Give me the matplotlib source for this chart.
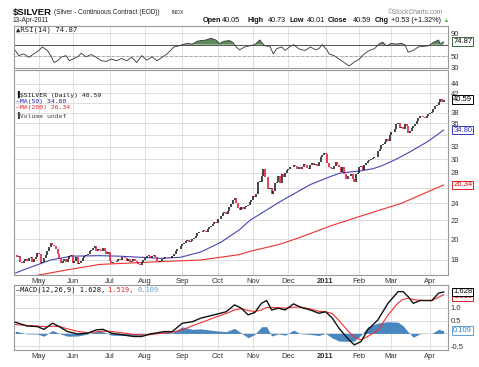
import numpy as np
import pandas as pd
import matplotlib
matplotlib.use('Agg')
import matplotlib.pyplot as plt
import matplotlib.transforms as mtrans
from matplotlib.ticker import FixedLocator, NullFormatter, NullLocator, FuncFormatter

# ---- data ----
holidays = ['2010-05-31', '2010-07-05', '2010-09-06', '2010-11-25',
            '2010-12-24', '2011-01-17', '2011-02-21']

closes = [
    # Apr 2010
    18.45, 18.30, 18.40, 17.85, 17.75, 17.95, 18.05, 17.90, 18.15, 18.25, 17.85, 18.05, 18.30, 18.65,
    # May
    18.55, 17.70, 17.80, 18.15, 18.50, 18.80, 19.20, 19.65, 19.45, 19.30,
    19.05, 18.60, 18.20, 17.75, 17.90, 18.05, 17.80, 18.10, 18.35, 18.45,
    # Jun
    17.75, 17.95, 18.25, 17.60, 17.70, 17.95, 18.20, 18.40, 18.45, 18.60, 18.80,
    18.95, 19.10, 19.30, 18.85, 19.05, 18.90, 18.80, 19.15, 18.85, 18.60, 18.70,
    # Jul
    17.95, 17.70, 17.85, 17.80, 17.95, 18.05, 18.00, 18.30, 18.25, 18.20, 17.95,
    18.10, 17.80, 17.95, 18.05, 17.95, 17.85, 17.60, 17.55, 17.85, 18.00,
    # Aug
    18.15, 18.35, 18.40, 18.20, 18.40, 18.45, 18.25, 17.90, 17.85, 17.95, 18.05,
    18.20, 18.30, 18.25, 18.15, 18.20, 18.35, 18.55, 18.80, 19.05, 19.00, 19.35,
    # Sep
    19.50, 19.65, 19.85, 19.90, 19.75, 19.85, 20.00, 20.10, 20.35, 20.60, 20.75,
    20.70, 20.85, 20.90, 20.75, 21.10, 21.30, 21.40, 21.65, 21.80, 21.70,
    # Oct
    22.15, 22.20, 22.45, 22.80, 23.00, 22.70, 23.10, 23.50, 23.90, 24.40, 24.65,
    24.05, 23.40, 23.20, 23.60, 23.35, 23.60, 23.70, 23.85, 24.20, 24.45,
    # Nov
    24.85, 24.75, 25.20, 26.80, 26.80, 27.50, 28.60, 27.40, 27.40, 25.80, 26.00,
    25.10, 25.60, 26.60, 26.80, 27.60, 26.60, 27.90, 27.40, 27.95, 28.35,
    # Dec
    28.60, 28.90, 28.80, 29.20, 28.95, 28.60, 28.80, 28.60, 28.90, 29.30, 29.10,
    28.70, 28.50, 29.20, 29.50, 29.20, 29.30, 29.00, 29.60, 30.30, 30.70, 30.90,
    # Jan 2011
    30.80, 29.40, 28.80, 28.70, 28.55, 29.00, 29.60, 29.20, 28.90, 28.20,
    28.90, 27.80, 27.10, 27.50, 27.60, 27.80, 27.20, 26.70, 27.90, 27.95,
    # Feb
    28.80, 29.00, 28.40, 29.10, 29.40, 29.70, 29.90, 30.10, 30.20, 30.30,
    30.40, 31.30, 31.60, 32.30, 32.40, 32.70, 33.20, 32.90, 33.90,
    # Mar
    34.50, 34.40, 35.00, 35.90, 36.10, 35.20, 35.40, 35.00, 35.80, 35.60, 34.30, 34.60,
    35.10, 35.50, 35.90, 36.40, 37.00, 37.40, 37.30, 37.10, 37.00, 37.40, 37.80,
    # Apr
    37.90, 38.20, 38.70, 39.30, 39.60, 40.10, 40.70, 40.05, 40.59,
]

ma50_day = [0, 9, 21, 33, 50, 62, 74, 86, 98, 110, 122, 133, 139, 157, 175, 187, 193,
            205, 212, 217, 225, 233, 245, 254]
ma50_val = [16.85, 17.35, 18.0, 18.35, 18.4, 18.35, 18.25, 18.15, 18.25, 18.75, 19.7,
            21.0, 22.0, 24.2, 26.4, 27.5, 28.0, 28.3, 28.6, 29.0, 29.9, 31.0, 32.9, 34.80]

ma200_day = [0, 9, 30, 50, 86, 110, 133, 139, 157, 169, 187, 205, 229, 254]
ma200_val = [16.3, 16.55, 17.1, 17.6, 17.85, 18.0, 18.5, 18.8, 19.5, 20.2, 21.4, 22.5,
             24.0, 26.34]

rsi_day = [0, 2, 5, 8, 11, 14, 16, 19, 21, 23, 25, 27, 30, 32, 34, 37, 39, 42, 45, 48,
           51, 54, 57, 60, 63, 66, 69, 72, 75, 78, 81, 84, 87, 90, 92, 94, 96, 99, 102,
           105, 108, 110, 113, 116, 119, 121, 124, 127, 129, 131, 133, 136, 139, 142,
           145, 146, 148, 151, 153, 155, 158, 160, 163, 165, 168, 170, 172, 175, 178,
           180, 182, 185, 186, 189, 192, 195, 198, 201, 204, 207, 210, 213, 216, 218,
           220, 223, 226, 229, 231, 233, 236, 239, 242, 245, 248, 251, 252, 254]
rsi_val = [60, 51, 54, 48, 54, 60, 66, 60, 51, 39, 42, 48, 51, 42, 45, 49, 55, 49, 53,
           48, 42, 41, 45, 42, 46, 42, 48, 39, 51, 43, 49, 42, 48, 54, 60, 66, 67, 70,
           72, 71, 76, 77, 78, 81, 78, 72, 76, 77, 74, 66, 61, 66, 68, 70, 78, 74, 68,
           67, 54, 63, 66, 60, 67, 70, 63, 61, 60, 66, 61, 63, 70, 60, 54, 51, 45, 39,
           33, 40, 45, 54, 60, 63, 72, 74, 68, 72, 71, 72, 70, 57, 60, 66, 67, 68, 74,
           78, 71, 74.87]

macd_day = [0, 7, 13, 17, 22, 26, 31, 37, 43, 48, 52, 57, 64, 70, 75, 80, 88, 93, 99,
            105, 110, 118, 125, 130, 134, 138, 142, 146, 149, 152, 156, 160, 165, 169,
            175, 180, 184, 188, 192, 197, 201, 205, 209, 215, 221, 227, 230, 233, 236,
            240, 247, 251, 254]
macd_val = [0.44, 0.29, 0.27, 0.16, 0.40, 0.27, 0.07, -0.02, 0.01, 0.14, 0.16, 0.01,
            -0.06, -0.12, -0.12, -0.02, 0.07, 0.07, 0.40, 0.46, 0.60, 0.73, 0.85, 1.12,
            0.99, 0.73, 0.82, 1.18, 1.29, 0.92, 0.99, 0.92, 1.16, 1.03, 0.92, 0.79, 0.85,
            0.60, 0.20, -0.19, -0.45, -0.32, 0.14, 0.53, 1.18, 1.64, 1.64, 1.44, 1.18,
            1.29, 1.29, 1.58, 1.628]
signal_val = [0.35, 0.31, 0.29, 0.27, 0.28, 0.27, 0.18, 0.08, 0.03, 0.06, 0.09, 0.08,
              0.02, -0.04, -0.07, -0.05, 0.02, 0.05, 0.14, 0.30, 0.42, 0.62, 0.78, 0.92,
              0.97, 0.90, 0.86, 0.92, 1.02, 1.02, 1.01, 0.99, 1.03, 1.04, 0.96, 0.87,
              0.85, 0.78, 0.50, 0.12, -0.15, -0.25, -0.12, 0.12, 0.72, 1.20, 1.34, 1.38,
              1.33, 1.30, 1.29, 1.42, 1.519]

# ---- setup ----
plt.rcParams['font.family'] = ['Liberation Sans', 'DejaVu Sans']
W, H = 479, 367
fig = plt.figure(figsize=(W / 100, H / 100), dpi=100)
fig.patch.set_facecolor('white')

dates = pd.bdate_range(end='2011-04-13', periods=len(closes), freq='C', holidays=holidays)
x = np.arange(len(closes))
months = dates.to_period('M')
mstart = [i for i in range(1, len(dates)) if months[i] != months[i - 1]]
mlabels = ['2011' if dates[i].month == 1 else dates[i].strftime('%b') for i in mstart]

grid_c = '#d9d9d9'
spine_c = '#9a9a9a'
tick_c = '#333333'
xlim = (-0.8, len(closes) + 1.6)
MONO = ['DejaVu Sans Mono']


def box(px_top, px_bot):
    return [14 / W, 1 - px_bot / H, 434 / W, (px_bot - px_top) / H]


def style(ax):
    ax.set_facecolor('white')
    for s in ax.spines.values():
        s.set_color(spine_c)
        s.set_linewidth(0.8)
    ax.yaxis.tick_right()
    ax.tick_params(axis='both', length=0, labelsize=5.5, colors=tick_c, pad=2)
    ax.set_xlim(*xlim)
    ax.xaxis.set_major_locator(FixedLocator(mstart))
    ax.grid(True, color=grid_c, lw=0.6)
    ax.set_axisbelow(True)


def labeler(fmt, hidden):
    # tick labels that sit under a value tag are not shown (they are covered there)
    return FuncFormatter(lambda v, p: '' if any(abs(v - h) < 1e-9 for h in hidden) else fmt % v)


def tag(ax, y, s, ec, tc='black'):
    tr = mtrans.blended_transform_factory(ax.transAxes, ax.transData)
    ax.text(1.012, y, s, transform=tr, fontsize=5.5, color=tc, va='center', ha='left',
            clip_on=False, zorder=10,
            bbox=dict(boxstyle='square,pad=0.12', fc='white', ec=ec, lw=0.7))


def T(px, py, s, **kw):
    fig.text(px / W, 1 - py / H, s, va='center', **kw)


# ---- RSI panel ----
ax1 = fig.add_axes(box(26, 68))
style(ax1)
ax1.set_ylim(29.5, 102.3)
ax1.yaxis.set_major_locator(FixedLocator([30, 50, 70, 90]))
ax1.yaxis.set_major_formatter(labeler('%d', [70]))
ax1.xaxis.set_major_formatter(NullFormatter())
rd = np.array(rsi_day)
rv = np.array(rsi_val, dtype=float)
ax1.fill_between(rd, 70, rv, where=rv > 70, interpolate=True, color='#5b8c5a', lw=0)
ax1.axhline(70, color='#555555', lw=0.7)
ax1.axhline(50, color='#aaaaaa', lw=0.7, ls=(0, (3, 2)))
ax1.plot(rd, rv, color='#333333', lw=0.6)
tag(ax1, 74.87, '74.87', '#3a6b3a')
T(16, 29.5, '\u25B2RSI(14) 74.87', fontsize=5.2, family=MONO, color='#222222')

# ---- price panel ----
ax2 = fig.add_axes(box(70, 275))
style(ax2)
ax2.set_yscale('log')
ax2.set_ylim(16.68, 47.2)
ax2.yaxis.set_major_locator(FixedLocator(list(range(18, 46, 2))))
ax2.yaxis.set_minor_locator(NullLocator())
ax2.yaxis.set_major_formatter(labeler('%d', [40, 34, 26]))
ax2.set_xticklabels(mlabels)

c = np.array(closes)
o = np.r_[c[0], c[:-1]]
cols = np.where(c >= o, '#111111', '#e0102e')
lo = np.minimum(o, c)
hi = np.maximum(o, c)
hi = np.where(hi - lo < 0.05, hi + 0.05, hi)
ax2.vlines(x, lo, hi, colors=cols, lw=1.1, zorder=3)
ax2.plot(ma50_day, ma50_val, color='#4646b4', lw=0.8, zorder=2)
ax2.plot(ma200_day, ma200_val, color='#ee3030', lw=0.8, zorder=2)

tag(ax2, closes[-1], '%.2f' % closes[-1], 'black')
tag(ax2, ma50_val[-1], '%.2f' % ma50_val[-1], '#3838c0', tc='#3838c0')
tag(ax2, ma200_val[-1], '%.2f' % ma200_val[-1], '#e02020', tc='#d01010')

lg = dict(fontsize=4.6, family=MONO)
T(16, 94, '\u2590$SILVER (Daily) %.2f' % closes[-1], color='#111111', **lg)
T(16, 101, '\u2014MA(50) %.2f' % ma50_val[-1], color='#2020b0', **lg)
T(16, 108, '\u2014MA(200) %.2f' % ma200_val[-1], color='#e02020', **lg)
T(16, 115, '\u2590Volume undef', color='#444444', **lg)

# ---- MACD panel ----
ax3 = fig.add_axes(box(285, 350))
style(ax3)
ax3.set_ylim(-0.65, 1.90)
ax3.yaxis.set_major_locator(FixedLocator([-0.5, 0.0, 0.5, 1.0, 1.5]))
ax3.yaxis.set_major_formatter(labeler('%.1f', [0.0, 1.5]))
ax3.set_xticklabels(mlabels)
md = np.array(macd_day)
mv = np.array(macd_val)
sv = np.array(signal_val)
hv = mv - sv
ax3.fill_between(md, 0, hv, color='#4a86c0', lw=0, zorder=2)
ax3.plot(md, sv, color='#ee3030', lw=0.8, zorder=3)
ax3.plot(md, mv, color='#111111', lw=1.0, zorder=4)
tag(ax3, sv[-1] - 0.06, '%.3f' % sv[-1], '#e02020', tc='#d01010')
tag(ax3, mv[-1], '%.3f' % mv[-1], 'black')
tag(ax3, hv[-1], '%.3f' % hv[-1], '#5aa0d8', tc='#3a80c0')
cw = 4.18  # px per mono character at 5pt
s1 = '\u2014MACD(12,26,9) %.3f, ' % mv[-1]
s2 = '%.3f, ' % sv[-1]
T(16, 290, s1, fontsize=5, family=MONO, color='#111111')
T(16 + cw * len(s1), 290, s2, fontsize=5, family=MONO, color='#e02020')
T(16 + cw * (len(s1) + len(s2)), 290, '%.3f' % hv[-1], fontsize=5, family=MONO,
  color='#5aa0d8')

for ax in (ax2, ax3):
    for lab in ax.get_xticklabels():
        if lab.get_text() == '2011':
            lab.set_fontweight('bold')

# ---- header ----
T(13, 12, '$SILVER', fontsize=6.8, fontweight='bold', color='#111111')
T(54, 12.5, '(Silver - Continuous Contract (EOD))', fontsize=4.7, color='#222222')
T(172, 12.5, 'INDX', fontsize=3.8, color='#222222')
T(13, 21, '13-Apr-2011', fontsize=4.8, color='#222222')
T(388, 12.5, '\u00a9StockCharts.com', fontsize=4.8, color='#888888')
hdr = [(203, 'Open', True), (222, '40.05', False), (248, 'High', True),
       (268, '40.73', False), (289, 'Low', True), (307, '40.01', False),
       (328, 'Close', True), (353, '40.59', False), (375, 'Chg', True),
       (391, '+0.53 (+1.32%)', False)]
for px, s, b in hdr:
    T(px, 20.5, s, fontsize=5.2, fontweight='bold' if b else 'normal', color='#111111')
T(443, 20.5, '\u25B2', fontsize=3.5, color='#2a9a2a')

fig.savefig('out.png', dpi=100)
